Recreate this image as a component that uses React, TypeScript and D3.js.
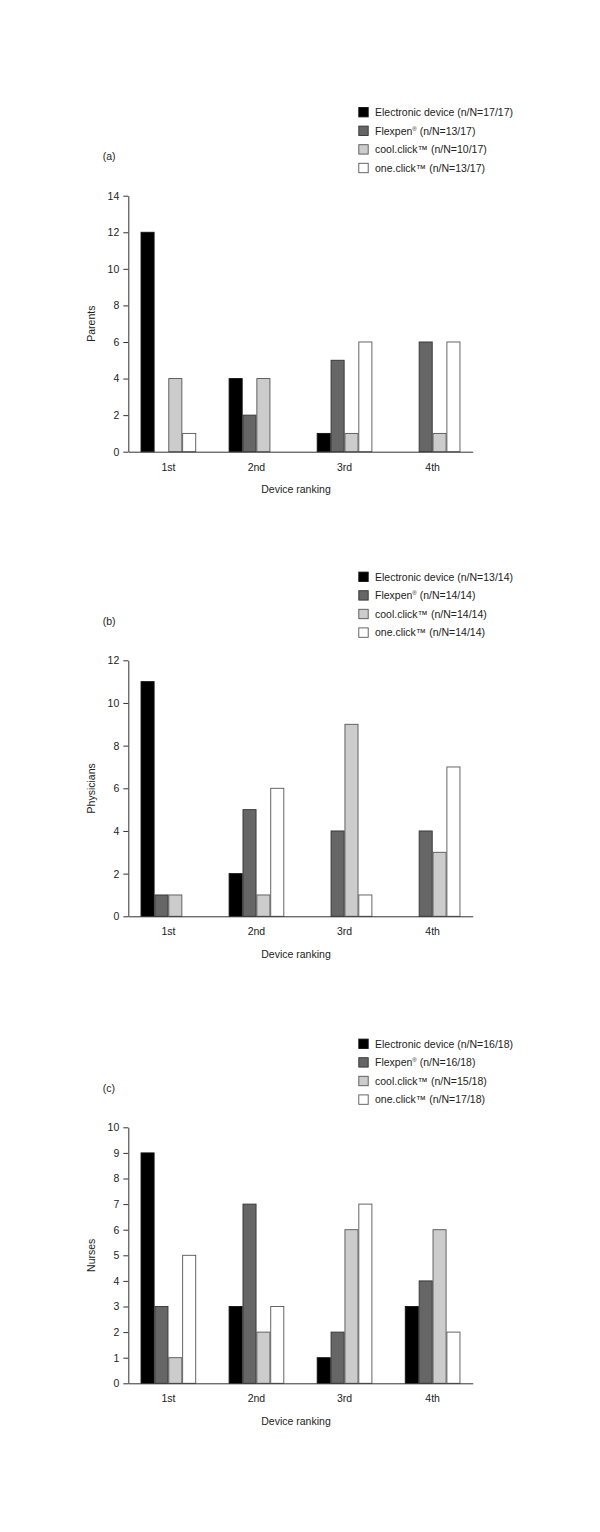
import React, { useEffect, useRef } from 'react';
import * as d3 from 'd3';

// Ranking categories and devices
const categories = ['1st', '2nd', '3rd', '4th'];
const devices = ['Electronic device', 'Flexpen', 'cool.click™', 'one.click™'];
const deviceColors = ['#000000', '#666666', '#cccccc', '#ffffff'];
const deviceStrokes = ['#111111', '#333333', '#555555', '#555555'];

// Panel (a) parents
const parentsCounts = [
  [12, 4, 1, 0],
  [0, 2, 5, 6],
  [4, 4, 1, 1],
  [1, 0, 6, 6],
];
const parentsN = ['17/17', '13/17', '10/17', '13/17'];

// Panel (b) physicians
const physiciansCounts = [
  [11, 2, 0, 0],
  [1, 5, 4, 4],
  [1, 1, 9, 3],
  [0, 6, 1, 7],
];
const physiciansN = ['13/14', '14/14', '14/14', '14/14'];

// Panel (c) nurses
const nursesCounts = [
  [9, 3, 1, 3],
  [3, 7, 2, 4],
  [1, 2, 6, 6],
  [5, 3, 7, 2],
];
const nursesN = ['16/18', '16/18', '15/18', '17/18'];

const panels = [
  { tag: '(a)', label: 'Parents', counts: parentsCounts, nN: parentsN, max: 14, step: 2, top: 195.7 },
  { tag: '(b)', label: 'Physicians', counts: physiciansCounts, nN: physiciansN, max: 12, step: 2, top: 660.3 },
  { tag: '(c)', label: 'Nurses', counts: nursesCounts, nN: nursesN, max: 10, step: 1, top: 1127.3 },
];

export default function App() {
  const ref = useRef<SVGSVGElement | null>(null);

  useEffect(() => {
    const svg = d3.select(ref.current);
    svg.selectAll('*').remove();

    const font = '"Liberation Sans", Arial, Helvetica, sans-serif';
    const fs = 10.5;
    const left = 128.3;
    const right = 472.7;
    const plotH = 256;

    panels.forEach(p => {
      const g = svg.append('g');
      const bottom = p.top + plotH;

      const x = d3.scaleBand<string>()
        .domain(categories)
        .range([left, right])
        .paddingInner(0.37)
        .paddingOuter(0.14);

      const xInner = d3.scaleBand<number>()
        .domain(d3.range(devices.length))
        .range([0, x.bandwidth()]);

      const y = d3.scaleLinear()
        .domain([0, p.max])
        .range([bottom, p.top]);

      // bars
      p.counts.forEach((vals, di) => {
        g.selectAll(null)
          .data(vals.map((v, ci) => ({ v, c: categories[ci] })).filter(d => d.v > 0))
          .enter()
          .append('rect')
          .attr('x', d => (x(d.c) as number) + (xInner(di) as number) + 0.4)
          .attr('y', d => y(d.v))
          .attr('width', xInner.bandwidth() - 0.8)
          .attr('height', d => bottom - y(d.v))
          .attr('fill', deviceColors[di])
          .attr('stroke', deviceStrokes[di])
          .attr('stroke-width', 0.9);
      });

      // y axis
      const yAxis = d3.axisLeft(y)
        .tickValues(d3.range(0, p.max + p.step / 2, p.step))
        .tickSize(5)
        .tickSizeOuter(0)
        .tickPadding(4)
        .tickFormat(d3.format('d'));
      const ya = g.append('g')
        .attr('transform', `translate(${left},0)`)
        .call(yAxis);
      ya.select('.domain').attr('stroke', '#333');
      ya.selectAll('.tick line').attr('stroke', '#333');
      ya.selectAll('text')
        .attr('font-family', font)
        .attr('font-size', fs)
        .attr('fill', '#222');

      // x axis
      const xAxis = d3.axisBottom(x).tickSize(0).tickSizeOuter(0).tickPadding(11.5);
      const xa = g.append('g')
        .attr('transform', `translate(0,${bottom})`)
        .call(xAxis);
      xa.select('.domain').attr('stroke', '#333');
      xa.selectAll('text')
        .attr('font-family', font)
        .attr('font-size', fs)
        .attr('fill', '#222');

      // axis titles
      g.append('text')
        .attr('x', 296)
        .attr('y', bottom + 41.5)
        .attr('text-anchor', 'middle')
        .attr('font-family', font)
        .attr('font-size', fs)
        .attr('fill', '#222')
        .text('Device ranking');

      g.append('text')
        .attr('transform', `translate(95,${p.top + plotH / 2}) rotate(-90)`)
        .attr('text-anchor', 'middle')
        .attr('font-family', font)
        .attr('font-size', fs)
        .attr('fill', '#222')
        .text(p.label);

      // panel tag
      g.append('text')
        .attr('x', 102.7)
        .attr('y', p.top - 35.5)
        .attr('font-family', font)
        .attr('font-size', fs)
        .attr('fill', '#222')
        .text(p.tag);

      // legend
      const leg = g.append('g');
      devices.forEach((name, i) => {
        const cy = p.top - 83.5 + i * 18.6;
        leg.append('rect')
          .attr('x', 358.8)
          .attr('y', cy - 4.7)
          .attr('width', 9.4)
          .attr('height', 9.4)
          .attr('fill', deviceColors[i])
          .attr('stroke', deviceStrokes[i])
          .attr('stroke-width', 0.9);
        const t = leg.append('text')
          .attr('x', 375)
          .attr('y', cy + 3.8)
          .attr('font-family', font)
          .attr('font-size', fs)
          .attr('fill', '#222');
        if (name === 'Flexpen') {
          t.append('tspan').text('Flexpen');
          t.append('tspan').attr('font-size', 6).attr('dy', -4).text('®');
          t.append('tspan').attr('dy', 4).text(` (n/N=${p.nN[i]})`);
        } else {
          t.text(`${name} (n/N=${p.nN[i]})`);
        }
      });
    });
  }, []);

  return (
    <svg
      ref={ref}
      width={600}
      height={1532}
      style={{ position: 'absolute', left: 0, top: 0, background: '#fff' }}
    />
  );
}
